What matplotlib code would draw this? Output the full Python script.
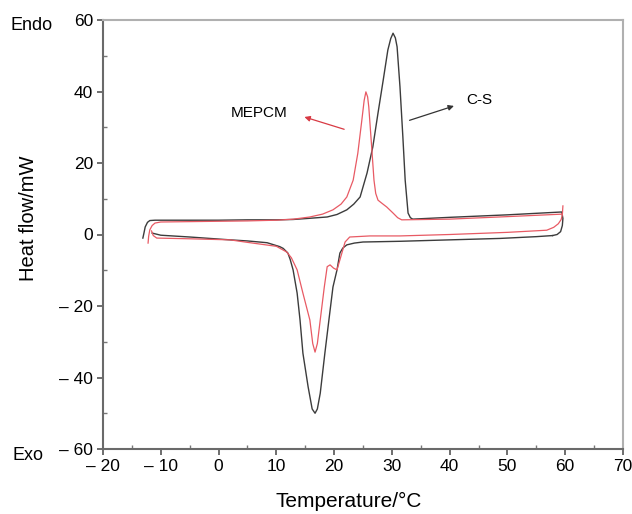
import matplotlib
matplotlib.use("Agg")
from matplotlib import pyplot as plt
from matplotlib.ticker import MultipleLocator

plt.rcParams['font.family'] = ['Liberation Sans', 'DejaVu Sans']

# C-S sample: heating (upper) and cooling (lower) traces
cs_heat_x = [-13.1, -12.9, -12.7, -12.3, -11.9, -11.0, -5, 0, 5, 10, 12.9, 15.5, 18.8, 20.5,
             22.2, 23.4, 24.5, 25.7, 26.7, 27.6, 28.5, 29.3, 29.8, 30.2, 30.6, 30.9, 31.4,
             31.9, 32.3, 32.8, 33.2, 33.6, 40, 50, 59.4, 59.6, 59.5, 59.2, 58.6, 57.8]
cs_heat_y = [-1.0, 0.5, 2.1, 3.4, 3.9, 4.0, 4.0, 4.0, 4.1, 4.1, 4.2, 4.5, 4.9, 5.6,
             6.9, 8.5, 10.5, 17.2, 24.5, 34.0, 43.2, 51.6, 54.8, 56.3, 55.0, 52.5, 41.3,
             27.3, 15.2, 6.0, 4.7, 4.3, 4.8, 5.5, 6.3, 4.5, 2.5, 0.8, 0.0, -0.3]
cs_cool_x = [57.8, 55, 48.7, 40, 31.4, 25.0, 23.5, 22.2, 21.5, 21.0, 20.5, 19.8, 19.1, 18.4,
             17.6, 17.1, 16.7, 16.2, 15.5, 14.6, 14.1, 13.6, 12.9, 12.4, 12.0, 11.2, 10.6,
             8.4, 5, 2, -5, -10, -11.5]
cs_cool_y = [-0.3, -0.6, -1.1, -1.5, -1.9, -2.1, -2.4, -2.9, -3.8, -5.2, -9.9, -14.7, -23.9, -33.2,
             -44.4, -48.8, -50.0, -48.8, -42.6, -33.2, -23.9, -16.4, -9.9, -7.0, -5.2, -3.9, -3.4,
             -2.3, -1.8, -1.5, -0.7, -0.2, 0.4]

# MEPCM sample
mep_heat_x = [-12.2, -12.1, -11.9, -11.5, -11.0, -10, -5, 0, 5, 10, 13, 15.8, 18, 19.8, 21.2,
              22.2, 23.3, 24.1, 24.8, 25.2, 25.5, 25.8, 26.0, 26.5, 26.9, 27.2, 27.6, 28.3,
              29.1, 30.2, 31.0, 31.7, 40, 50, 59.5]
mep_heat_y = [-2.4, -0.5, 1.3, 2.5, 3.2, 3.5, 3.6, 3.7, 3.8, 4.0, 4.3, 4.9, 5.7, 6.9, 8.5,
              10.5, 15.2, 22.7, 32.0, 37.5, 39.9, 38.5, 35.7, 24.5, 15.2, 11.5, 9.6, 8.7,
              7.7, 6.0, 4.7, 4.1, 4.3, 5.0, 5.7]
mep_cool_x = [59.6, 59.5, 59.3, 58.8, 58.0, 56.8, 50, 40, 31.4, 26.2, 22.7, 21.9, 21.0, 20.5,
              19.9, 19.3, 18.8, 18.3, 17.6, 17.1, 16.7, 16.3, 15.8, 14.6, 13.6, 12.6, 11.8,
              10, 5, 2, -5, -10.7, -11.3, -11.6]
mep_cool_y = [8.0, 5.5, 4.2, 3.0, 2.0, 1.2, 0.6, 0.0, -0.4, -0.4, -0.7, -2.1, -7.1, -9.9,
              -9.4, -8.5, -9.0, -14.7, -23.9, -30.5, -32.9, -30.5, -23.9, -16.4, -9.9, -6.5, -4.9,
              -3.3, -2.2, -1.5, -1.2, -1.0, -0.3, 1.0]

x_ticks = [-20, -10, 0, 10, 20, 30, 40, 50, 60, 70]
x_labels = ['– 20', '– 10', '0', '10', '20', '30', '40', '50', '60', '70']
y_ticks = [-60, -40, -20, 0, 20, 40, 60]
y_labels = ['– 60', '– 40', '– 20', '0', '20', '40', '60']

cs_color = '#3c3c3c'
mep_color = '#e85a64'

fig = plt.figure(figsize=(6.32, 5.14), dpi=100)
ax = fig.add_axes([103 / 632, 1 - 449 / 514, 520 / 632, 429 / 514])

ax.plot(cs_heat_x, cs_heat_y, color=cs_color, lw=1.0)
ax.plot(cs_cool_x, cs_cool_y, color=cs_color, lw=1.0)
ax.plot(mep_heat_x, mep_heat_y, color=mep_color, lw=0.9)
ax.plot(mep_cool_x, mep_cool_y, color=mep_color, lw=0.9)

ax.set_xlim(-20, 70)
ax.set_ylim(-60, 60)
ax.set_xticks(x_ticks)
ax.set_xticklabels(x_labels)
ax.set_yticks(y_ticks)
ax.set_yticklabels(y_labels)
ax.xaxis.set_minor_locator(MultipleLocator(5))
ax.yaxis.set_minor_locator(MultipleLocator(10))
ax.tick_params(axis='both', which='major', labelsize=12.5, direction='out', length=4,
               width=1.2, color='#555555', pad=3)
ax.tick_params(axis='both', which='minor', direction='in', length=3, width=1.0, color='#777777')

for side in ['left', 'bottom']:
    ax.spines[side].set_color('#6a6a6a')
    ax.spines[side].set_linewidth(1.5)
for side in ['top', 'right']:
    ax.spines[side].set_color('#b0b0b0')
    ax.spines[side].set_linewidth(1.5)

ax.set_xlabel('Temperature/°C', fontsize=15)
ax.set_ylabel('Heat flow/mW', fontsize=14.5)
ax.xaxis.set_label_coords((349 - 103) / 520, -0.1)
ax.yaxis.set_label_coords((38 - 103) / 520, 0.538)

# annotations
ax.annotate('', xy=(14.4, 33.1), xytext=(22.2, 29.2),
            arrowprops=dict(arrowstyle='-|>', color='#d83a44', lw=0.9, mutation_scale=8))
ax.text(7.0, 34.0, 'MEPCM', fontsize=11, ha='center', va='center')
ax.annotate('', xy=(41.2, 36.2), xytext=(32.6, 31.7),
            arrowprops=dict(arrowstyle='-|>', color='#333333', lw=0.9, mutation_scale=8))
ax.text(45.2, 37.6, 'C-S', fontsize=11, ha='center', va='center')

fig.text(11 / 632, 1 - 26 / 514, 'Endo', fontsize=13, va='center')
fig.text(12 / 632, 1 - 456 / 514, 'Exo', fontsize=13, va='center')

plt.savefig('out.png', dpi=100)
